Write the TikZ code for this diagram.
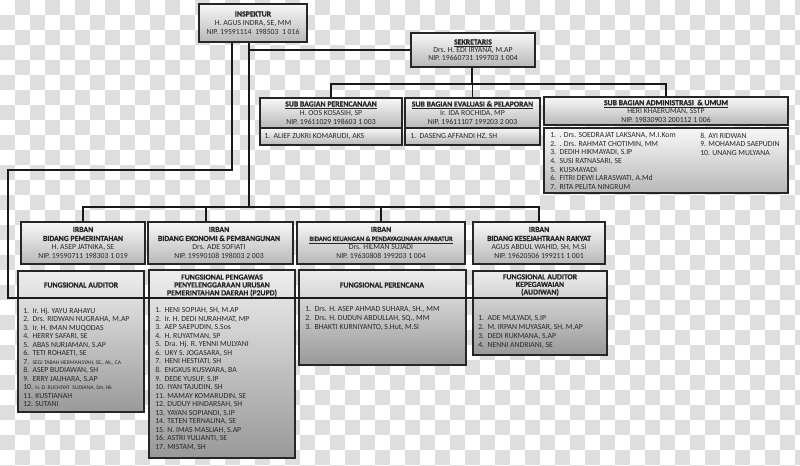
\documentclass[tikz,border=0pt]{standalone}
\usepackage{fontspec}
\setmainfont{Carlito}[BoldFeatures={FakeBold=0.8}]
\usetikzlibrary{shadows,fit}
\definecolor{chk}{HTML}{DEDEDE}
\tikzset{
  gbox/.style={draw=black!85, line width=0.8pt, top color=black!3, bottom color=black!28, inner sep=0pt,
    drop shadow={shadow xshift=0.8pt, shadow yshift=-0.8pt, fill=black, opacity=0.35}},
  fbox/.style={gbox, top color=black!7, bottom color=black!40},
  conn/.style={line width=1.2pt, black!90},
  ttl/.style={font=\fontsize{5.8}{6.75}\selectfont, align=center, inner sep=0pt, text=black!85},
  lst/.style={font=\fontsize{5.8}{6.45}\selectfont, align=left, anchor=north west, inner sep=0pt, text=black!85},
}
\begin{document}
\begin{tikzpicture}[x=0.75pt,y=-0.75pt]
\useasboundingbox (0,0) rectangle (800,465);
\begin{scope}
\clip (0,0) rectangle (800,465);
\fill[white] (0,0) rectangle (800,465);
\foreach \i in {0,...,53}{\foreach \j in {0,...,31}{%
  \pgfmathtruncatemacro{\chkpar}{mod(\i+\j,2)}%
  \ifnum\chkpar=1 \fill[chk] (15*\i,15*\j) rectangle ++(15,15);\fi}}
\end{scope}

% ---------- boxes ----------
\node[gbox, fit={(199,4) (307,42)}] (insp) {};
\node[ttl] at (insp.center) {\textbf{INSPEKTUR}\\H. AGUS INDRA, SE, MM\\NIP. 19591114\ \ 198503\ \ 1 016};

\node[gbox, fit={(411,33) (535,67)}] (sek) {};
\node[ttl, font=\fontsize{5.8}{6}\selectfont] at (sek.center) {\textbf{\underline{SEKRETARIS}}\\Drs. H. EDI IRYANA, M.AP\\NIP. 19660731 199703 1 004};

\node[gbox, fit={(260,98) (402,128)}] (sp) {};
\node[ttl] at (sp.center) {\textbf{\underline{SUB BAGIAN PERENCANAAN}}\\H. OOS KOSASIH, SP\\NIP. 19611029\ 198603\ 1 003};
\node[gbox, fit={(260,128) (402,145)}] (spl) {};
\node[lst] at (264,133.5) {1.\ \ ALIEF ZUKRI KOMARUDI, AKS};

\node[gbox, fit={(405,98) (540,128)}] (se) {};
\node[ttl] at (se.center) {\textbf{\underline{SUB BAGIAN EVALUASI \& PELAPORAN}}\\Ir. IDA ROCHIDA, MP\\NIP. 19611107\ 199203\ 2 003};
\node[gbox, fit={(405,128) (540,145)}] (sel) {};
\node[lst] at (410,133.5) {1.\ \ DASENG AFFANDI HZ, SH};

\node[gbox, fit={(544,97) (788,125)}] (sa) {};
\node[ttl, font=\fontsize{5.8}{6.3}\selectfont] at (sa.center) {\textbf{\underline{SUB BAGIAN ADMINISTRASI\ \ \& UMUM}}\\HERI KHAERUMAN, SSTP\\NIP. 19830903\ 200112\ 1 006};
\node[gbox, fit={(544,128) (788,193)}] (sal) {};
\node[lst] at (550,132.5) {1.\ \ . Drs. SOEDRAJAT LAKSANA, M.I.Kom\\2.\ \ . Drs. RAHMAT CHOTIMIN, MM\\3.\ \ DEDIH HIKMAYADI, S.IP\\4.\ \ SUSI RATNASARI, SE\\5.\ \ KUSMAYADI\\6.\ \ FITRI DEWI LARASWATI, A.Md\\7.\ \ RITA PELITA NINGRUM};
\node[lst] at (700,132.5) {8. AYI RIDWAN\\9. MOHAMAD SAEPUDIN\\10. UNANG MULYANA};

% Irban row
\node[gbox, fit={(21,222) (145,264)}] (ir1) {};
\node[ttl] at (83,243) {\textbf{IRBAN}\\\textbf{BIDANG PEMERINTAHAN}\\H. ASEP JATNIKA, SE\\NIP. 19590711\ 198303\ 1 019};
\node[gbox, fit={(148,222) (293,264)}] (ir2) {};
\node[ttl] at (219,243) {\textbf{IRBAN}\\\textbf{BIDANG EKONOMI \& PEMBANGUNAN}\\Drs. ADE SOFIATI\\NIP. 19590108\ 198003\ 2 003};
\node[gbox, fit={(297,222) (465,264)}] (ir3) {};
\node[ttl] at (381,243) {\textbf{IRBAN}\\{\fontsize{4.9}{6.75}\selectfont\textbf{\underline{BIDANG KEUANGAN \& PENDAYAGUNAAN APARATUR}}}\\Drs. HILMAN SUJADI\\NIP. 19630808\ 199203\ 1 004};
\node[gbox, fit={(473,222) (605,264)}] (ir4) {};
\node[ttl] at (539,243) {\textbf{IRBAN}\\\textbf{BIDANG KESEJAHTRAAN RAKYAT}\\AGUS ABDUL WAHID, SH, M.Si\\NIP. 19620506\ 199211\ 1 001};

% Fungsional row
\node[fbox, fit={(18,271) (144,412)}] (fa) {};
\node[ttl] at (81,285) {\textbf{FUNGSIONAL AUDITOR}};
\node[lst, font=\fontsize{5.8}{6.4}\selectfont] at (23,307.5) {1.\ \ Ir. Hj. YAYU RAHAYU\\2.\ \ Drs. RIDWAN NUGRAHA, M.AP\\3.\ \ Ir. H. IMAN MUQODAS\\4.\ \ HERRY SAFARI, SE\\5.\ \ ABAS NURJAMAN, S.AP\\6.\ \ TETI ROHAETI, SE\\7.\ \ {\fontsize{4.2}{6.4}\selectfont SEGI TABAH HERMANSYAH, SE., Ak., CA}\\8.\ \ ASEP BUDIAWAN, SH\\9.\ \ ERRY JAUHARA, S.AP\\10. {\fontsize{4.2}{6.4}\selectfont H. D. RUCHIYAT\ \ SUDIANA, Sm, Hk}\\11. KUSTIANAH\\12. SUTANI};

\node[fbox, fit={(149,270) (295,458)}] (fp) {};
\node[ttl, font=\fontsize{5.8}{5.9}\selectfont] at (222,285.5) {\textbf{FUNGSIONAL PENGAWAS}\\\textbf{PENYELENGGARAAN URUSAN}\\\textbf{PEMERINTAHAN DAERAH (P2UPD)}};
\node[lst, font=\fontsize{5.8}{6.4}\selectfont] at (155,307.5) {1.\ \ HENI SOPIAH, SH, M.AP\\2.\ \ Ir. H. DEDI NURAHMAT, MP\\3.\ \ AEP SAEPUDIN, S.Sos\\4.\ \ H. RUYATMAN, SP\\5.\ \ Dra. Hj. R. YENNI MULYANI\\6.\ \ UKY S. JOGASARA, SH\\7.\ \ HENI HESTIATI, SH\\8.\ \ ENGKUS KUSWARA, BA\\9.\ \ DEDE YUSUF, S.IP\\10. IYAN TAJUDIN, SH\\11. MAMAY KOMARUDIN, SE\\12. DUDUY HINDARSAH, SH\\13. YAYAN SOPIANDI, S.IP\\14. TETEN TERNALINA, SE\\15. N. IMAS MASLIAH, S.AP\\16. ASTRI YULIANTI, SE\\17. MISTAM, SH};

\node[fbox, fit={(299,270) (466,365)}] (fr) {};
\node[ttl] at (382,285) {\textbf{FUNGSIONAL PERENCANA}};
\node[lst, font=\fontsize{5.8}{6.75}\selectfont] at (305,306) {1.\ \ Drs. H. ASEP AHMAD SUHARA, SH., MM\\2.\ \ Drs. H. DUDUN ABDULLAH, SQ., MM\\3.\ \ BHAKTI KURNIYANTO, S.Hut, M.Si};

\node[fbox, fit={(473,271) (607,355)}] (fw) {};
\node[ttl, font=\fontsize{5.8}{5.7}\selectfont] at (540,285) {\textbf{FUNGSIONAL AUDITOR}\\\textbf{KEPEGAWAIAN}\\\textbf{(AUDIWAN)}};
\node[lst, font=\fontsize{5.8}{6.75}\selectfont] at (478,315.5) {1.\ \ ADE MULYADI, S.IP\\2.\ \ M. IRPAN MUYASAR, SH, M.AP\\3.\ \ DEDI RUKMANA, S.AP\\4.\ \ NENNI ANDRIANI, SE};

% ---------- connectors ----------
\coordinate (vA) at (249,207);
\coordinate (d2) at (206,207);
\coordinate (vB) at (232,170);
\coordinate (lB) at (8,170);
\coordinate (hB) at (8,298);
\coordinate (sb) at (472,84);

\draw[conn] (insp.south -| vA) -- (vA);
\draw[conn] (vA |- sek.west) -- (sek.west);
\draw[conn] (ir1.north) -- (ir1.north |- vA) -- (ir4.north |- vA) -- (ir4.north);
\draw[conn] (d2) -- (d2 |- ir2.north);
\draw[conn] (ir3.north |- vA) -- (ir3.north);
\draw[conn] (insp.south -| vB) -- (vB) -- (lB) -- (hB) -- (hB -| fw.east);
\draw[conn] (sek.south -| sb) -- (sb);
\draw[conn] (sp.north) -- (sp.north |- sb) -- (sa.north |- sb) -- (sa.north);
\draw[conn] (se.north |- sb) -- (se.north);
\end{tikzpicture}
\end{document}
